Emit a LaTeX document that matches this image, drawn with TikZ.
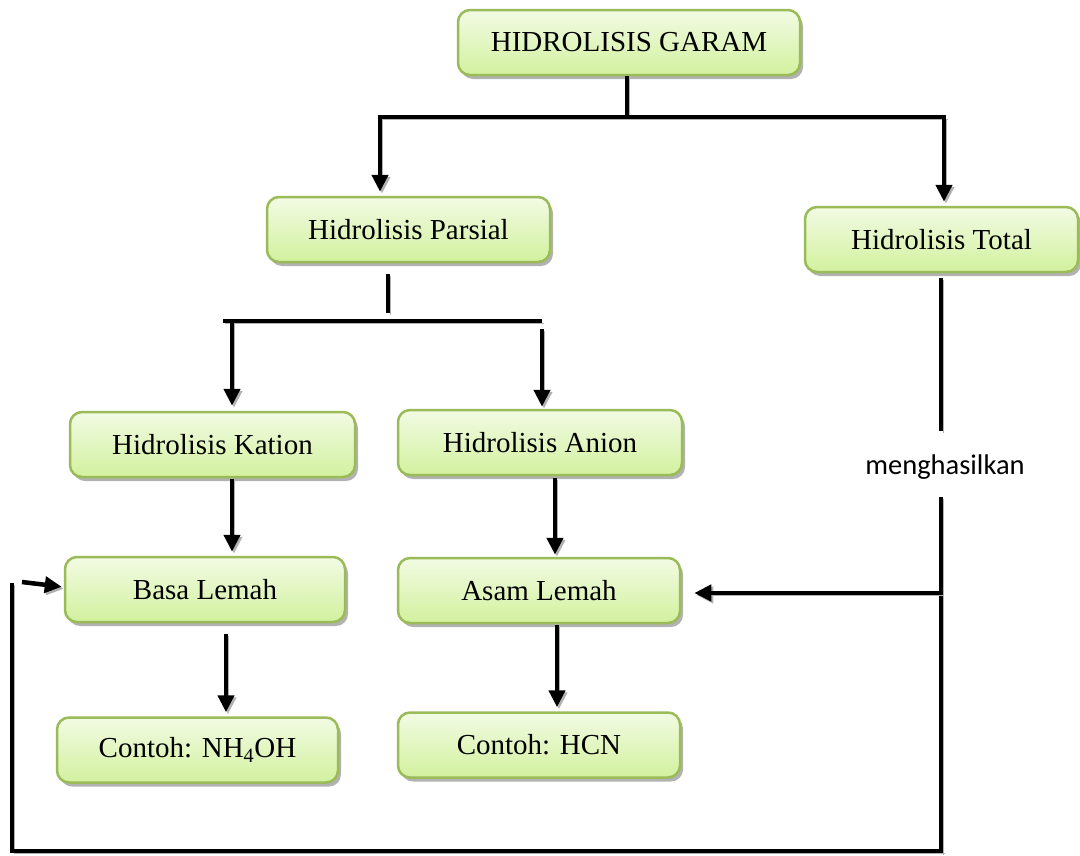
\documentclass[tikz,border=0pt]{standalone}
\usepackage{fontspec}
\setmainfont{Liberation Serif}
\newfontfamily\calfont{Carlito}
\usepackage{xcolor}
\usepackage{tikz}
\usetikzlibrary{arrows.meta,shadows,calc}

\definecolor{boxline}{RGB}{155,187,89}
\definecolor{boxtop}{RGB}{242,251,228}
\definecolor{boxbot}{RGB}{210,241,158}

\begin{document}
\begin{tikzpicture}[
				x=1pt, y=-1pt,
				font=\fontsize{29}{34}\selectfont,
				box/.style={
					rectangle, rounded corners=12pt,
					draw=boxline, line width=2.5pt,
					top color=boxtop, bottom color=boxbot,
					minimum height=65pt, inner sep=2pt,
					drop shadow={shadow xshift=3pt, shadow yshift=-4pt, opacity=0.3, fill=black}
				},
				ln/.style={line width=4.5pt, black,
					preaction={draw=black!30, transform canvas={shift={(2pt,-2pt)}}}},
				arr/.style={ln, -{Triangle[width=16pt,length=17pt]}},
				lbl/.style={font=\calfont\fontsize{28.5}{32}\selectfont}
				]
				\useasboundingbox (0,0) rectangle (1080,855);
				% boxes
				\node[box, minimum width=342pt] (garam)   at (629, 42.5)    {HIDROLISIS GARAM};
				\node[box, minimum width=283pt] (parsial) at (408.5, 229.5) {Hidrolisis Parsial};
				\node[box, minimum width=273pt] (total)   at (941.5, 239.5) {Hidrolisis Total};
				\node[box, minimum width=285pt] (kation)  at (212.5, 444.5) {Hidrolisis Kation};
				\node[box, minimum width=284pt] (anion)   at (540, 442.5)   {Hidrolisis Anion};
				\node[box, minimum width=280pt] (basa)    at (205, 589.5)   {Basa Lemah};
				\node[box, minimum width=282pt] (asam)    at (539, 590.5)   {Asam Lemah};
				\node[box, minimum width=281pt] (cbasa)   at (197.5, 750)   {Contoh: NH\textsubscript{4}OH};
				\node[box, minimum width=282pt] (casam)   at (539, 745)     {Contoh: HCN};
				\node[lbl] (hasil) at (945, 467) {menghasilkan};
				
				% garam -> parsial, total
				\coordinate (gj) at (627, 117);
				\coordinate (gl) at (380, 117);
				\coordinate (gr) at (944, 117);
				\draw[ln] (garam.south -| gj) -- (gj);
				\draw[ln] ([xshift=-2pt]gl) -- ([xshift=2pt]gr);
				\draw[arr, shorten >=4pt] (gl) -- (gl |- parsial.north);
				\draw[arr, shorten >=4pt] (gr) -- (gr |- total.north);
				
				% parsial -> kation, anion
				\coordinate (pj) at (388, 321);
				\coordinate (pl) at (232, 321);
				\coordinate (pr) at (542, 321);
				\draw[ln] ([yshift=-11pt]parsial.south -| pj) -- ([yshift=8pt]pj);
				\draw[ln] ([xshift=-9pt]pl) -- (pr);
				\draw[arr, shorten >=5pt] (pl) -- (pl |- kation.north);
				\draw[arr, shorten >=2pt] ([yshift=-8pt]pr) -- (pr |- anion.north);
				
				% kation, anion -> lemah
				\coordinate (kx) at (232, 0);
				\coordinate (ax) at (555, 0);
				\draw[arr, shorten >=4pt] ([yshift=-1pt]kation.south -| kx) -- (basa.north -| kx);
				\draw[arr, shorten >=2pt] ([yshift=-2pt]anion.south -| ax) -- (asam.north -| ax);
				
				% lemah -> contoh
				\coordinate (bx) at (226, 0);
				\coordinate (cx) at (557, 0);
				\draw[arr, shorten >=4pt] ([yshift=-11pt]basa.south -| bx) -- (cbasa.north -| bx);
				\draw[arr, shorten >=4pt] ([yshift=-1pt]asam.south -| cx) -- (casam.north -| cx);
				
				% total -> menghasilkan -> lemah
				\coordinate (tj) at (941, 593);
				\coordinate (tb) at (941, 851);
				\coordinate (lb) at (12, 851);
				\coordinate (lt) at (12, 583);
				\coordinate (ls) at (22, 582);
				\draw[ln] ([yshift=-5pt]total.south -| tj) -- ([yshift=20pt]hasil.north -| tj);
				\draw[ln] ([yshift=-14pt]hasil.south -| tj) -- ([yshift=-2.25pt]tb);
				\draw[arr, shorten >=13pt] (tj) -- (tj -| asam.east);
				\draw[ln] ([xshift=2pt]tb) -- (lb) -- (lt);
				\draw[arr, shorten >=2pt] (ls) -- ([yshift=2.5pt]basa.west);
\end{tikzpicture}
\end{document}
